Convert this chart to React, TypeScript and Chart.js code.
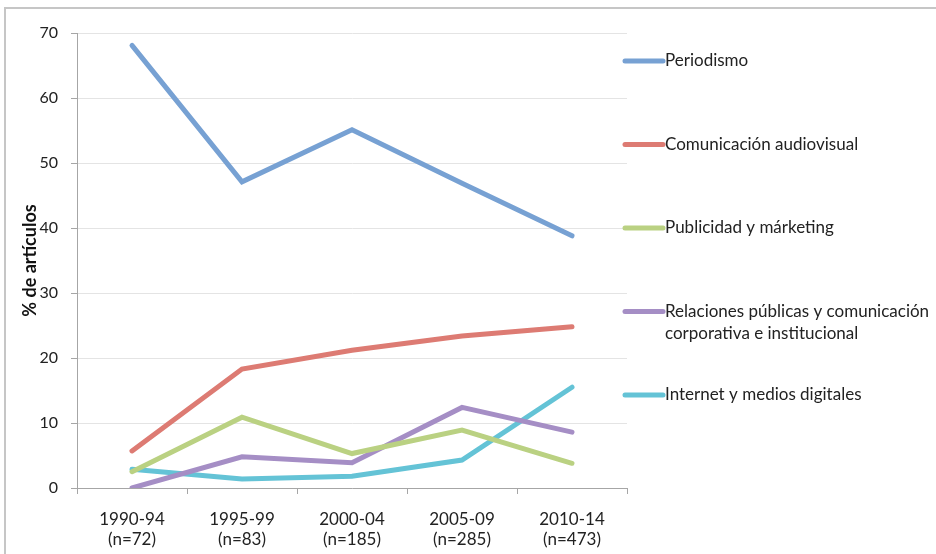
import React, { useEffect, useRef } from "react";
import { Chart, registerables } from "chart.js";

Chart.register(...registerables);

const categories: string[][] = [
  ["1990-94", "(n=72)"],
  ["1995-99", "(n=83)"],
  ["2000-04", "(n=185)"],
  ["2005-09", "(n=285)"],
  ["2010-14", "(n=473)"],
];

const seriesNames = [
  "Periodismo",
  "Comunicación audiovisual",
  "Publicidad y márketing",
  "Relaciones públicas y comunicación corporativa e institucional",
  "Internet y medios digitales",
];

const periodismo = [68.1, 47.1, 55.1, 46.9, 38.8];
const audiovisual = [5.7, 18.3, 21.2, 23.4, 24.8];
const publicidad = [2.5, 10.9, 5.3, 8.9, 3.8];
const relaciones = [0, 4.8, 3.9, 12.4, 8.6];
const internet = [2.9, 1.4, 1.8, 4.3, 15.5];

const colors = ["#77a1d3", "#dd7b73", "#bad182", "#a58ec5", "#64c3d6"];

const yTicks = [0, 10, 20, 30, 40, 50, 60, 70];

const FONT = "Lato, 'Open Sans', sans-serif";

const legendPlugin = {
  id: "customLegend",
  afterDraw(chart: any) {
    const ctx = chart.ctx as CanvasRenderingContext2D;
    const right = chart.chartArea.right;
    const lineX0 = right - 2;
    const lineX1 = right + 36;
    const textX = right + 38;
    const maxW = chart.width - textX - 2;
    ctx.save();
    ctx.font = `17px ${FONT}`;
    ctx.textBaseline = "middle";
    ctx.textAlign = "left";
    chart.data.datasets.forEach((ds: any, i: number) => {
      const y = 61 + i * 83.5;
      ctx.strokeStyle = ds.borderColor;
      ctx.lineWidth = 5;
      ctx.lineCap = "round";
      ctx.beginPath();
      ctx.moveTo(lineX0, y);
      ctx.lineTo(lineX1, y);
      ctx.stroke();
      const words = String(ds.label).split(" ");
      const lines: string[] = [];
      let cur = "";
      words.forEach((w) => {
        const test = cur ? cur + " " + w : w;
        if (ctx.measureText(test).width > maxW && cur) {
          lines.push(cur);
          cur = w;
        } else cur = test;
      });
      if (cur) lines.push(cur);
      ctx.fillStyle = "#222";
      lines.forEach((l, j) => ctx.fillText(l, textX, y + j * 22));
    });
    ctx.restore();
  },
};

const framePlugin = {
  id: "frame",
  beforeDraw(chart: any) {
    const ctx = chart.ctx as CanvasRenderingContext2D;
    ctx.save();
    ctx.fillStyle = "#ffffff";
    ctx.fillRect(0, 0, chart.width, chart.height);
    ctx.strokeStyle = "#c6c6c6";
    ctx.lineWidth = 2;
    ctx.beginPath();
    ctx.moveTo(5, chart.height + 5);
    ctx.lineTo(5, 8);
    ctx.lineTo(chart.width + 5, 8);
    ctx.stroke();
    ctx.restore();
  },
};

export default function App() {
  const ref = useRef<HTMLCanvasElement>(null);
  useEffect(() => {
    document.body.style.margin = "0";
    const data = [periodismo, audiovisual, publicidad, relaciones, internet];
    const chart = new Chart(ref.current!, {
      type: "line",
      data: {
        labels: categories,
        datasets: data.map((d, i) => ({
          label: seriesNames[i],
          data: d,
          borderColor: colors[i],
          backgroundColor: colors[i],
          borderWidth: 5,
          pointRadius: 0,
          pointHoverRadius: 0,
          tension: 0,
          fill: false,
          borderCapStyle: "round" as const,
          borderJoinStyle: "miter" as const,
        })),
      },
      options: {
        responsive: false,
        animation: false,
        layout: { padding: { left: 10, top: 33, right: 309, bottom: 2 } },
        plugins: {
          legend: { display: false },
          tooltip: { enabled: false },
        },
        scales: {
          x: {
            offset: true,
            afterFit: (scale: any) => {
              scale.height = 64;
            },
            grid: {
              display: true,
              drawOnChartArea: false,
              drawTicks: true,
              tickLength: 6,
              offset: true,
              tickColor: "#a6a6a6",
            },
            border: { color: "#a6a6a6", width: 1 },
            ticks: {
              color: "#222",
              font: { family: FONT, size: 17, lineHeight: 1.18 },
              padding: 15,
              maxRotation: 0,
              autoSkip: false,
            },
          },
          y: {
            min: 0,
            max: 70,
            afterBuildTicks: (scale: any) => {
              scale.ticks = yTicks.map((v) => ({ value: v }));
            },
            afterFit: (scale: any) => {
              scale.width = 67;
            },
            grid: {
              color: "#e4e4e4",
              tickColor: "#a6a6a6",
              tickLength: 6,
            },
            border: { color: "#a6a6a6", width: 1 },
            ticks: {
              color: "#222",
              font: { family: FONT, size: 16 },
              padding: 13,
            },
            title: {
              display: true,
              text: "% de artículos",
              color: "#111",
              font: { family: FONT, size: 18, weight: "bold" },
              padding: { top: 9, bottom: 0 },
            },
          },
        },
      },
      plugins: [framePlugin, legendPlugin],
    });
    return () => chart.destroy();
  }, []);
  return <canvas ref={ref} width={936} height={554} style={{ display: "block" }} />;
}
